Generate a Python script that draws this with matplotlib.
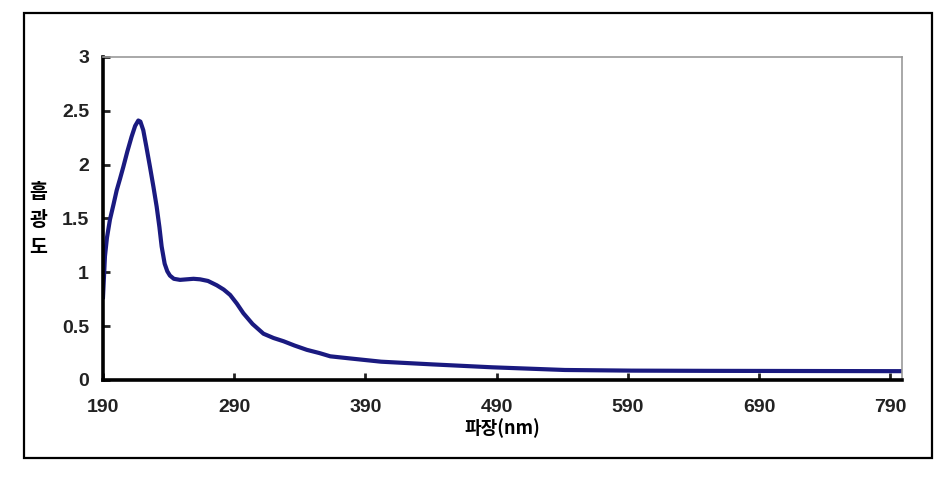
import matplotlib
matplotlib.use('Agg')
import matplotlib.pyplot as plt
from matplotlib.patches import Rectangle

# 흡광도 스펙트럼
wavelength = [190, 191.5, 193, 195.3, 198, 200.4, 203, 205.5, 208.5, 211.8,
              214.5, 216.9, 218.5, 220.7, 223, 225.8, 228.5, 230.9, 233, 234.7,
              237, 239, 241, 244, 248.7, 253.8, 259, 264, 270, 276.7,
              282, 286.9, 292, 297, 304, 312.3, 320, 327.6, 336, 345.4,
              355, 363.2, 378.5, 402, 441, 486.5, 542, 593, 650, 700, 750, 799]
absorbance = [0.77, 1.15, 1.32, 1.49, 1.63, 1.76, 1.87, 1.98, 2.12, 2.26,
              2.36, 2.41, 2.40, 2.32, 2.17, 1.98, 1.79, 1.61, 1.42, 1.24,
              1.08, 1.01, 0.97, 0.94, 0.93, 0.935, 0.94, 0.935, 0.92, 0.88,
              0.84, 0.79, 0.71, 0.62, 0.52, 0.43, 0.39, 0.36, 0.32, 0.28,
              0.25, 0.22, 0.20, 0.17, 0.145, 0.118, 0.093, 0.087, 0.085, 0.084, 0.083, 0.082]

x_ticks = [190, 290, 390, 490, 590, 690, 790]
y_ticks = [0, 0.5, 1, 1.5, 2, 2.5, 3]
y_tick_labels = ['0', '0.5', '1', '1.5', '2', '2.5', '3']
y_title = '흡광도'

num_font = ['Liberation Sans', 'DejaVu Sans']
kor_font = ['Noto Sans CJK KR', 'DejaVu Sans']

fig = plt.figure(figsize=(9.47, 4.79), dpi=100)

# 바깥 테두리
fig.patches.append(Rectangle((24 / 947, 1 - 458 / 479), (932 - 24) / 947, (458 - 13) / 479,
                             transform=fig.transFigure, fill=False,
                             edgecolor='black', linewidth=1.6))

ax = fig.add_axes([103 / 947, 1 - 380 / 479, (902 - 103) / 947, (380 - 57) / 479])
ax.plot(wavelength, absorbance, color='#1a1a80', linewidth=3.0, solid_joinstyle='round')

ax.set_xlim(190, 799)
ax.set_ylim(0, 3)
ax.set_xticks(x_ticks)
ax.set_xticklabels([str(t) for t in x_ticks], family=num_font, fontsize=14, fontweight='bold')
ax.set_yticks(y_ticks)
ax.set_yticklabels(y_tick_labels, family=num_font, fontsize=14, fontweight='bold')
ax.tick_params(axis='x', direction='in', length=5, width=2, pad=14, colors='#222222')
ax.tick_params(axis='y', direction='in', length=5, width=2, pad=10, colors='#222222')

for side in ['left', 'bottom']:
    ax.spines[side].set_linewidth(2.6)
    ax.spines[side].set_color('black')
for side in ['top', 'right']:
    ax.spines[side].set_linewidth(1.2)
    ax.spines[side].set_color('#999999')

ax.set_xlabel('파장(nm)', family=kor_font, fontsize=13, fontweight='bold', labelpad=1)

# 세로로 한 글자씩 쌓은 y축 제목
for i, ch in enumerate(y_title):
    fig.text(38 / 947, 1 - (192 + 28 * i) / 479, ch, family=kor_font, fontsize=14,
             fontweight='bold', ha='center', va='center')

fig.savefig('out.png', dpi=100)
